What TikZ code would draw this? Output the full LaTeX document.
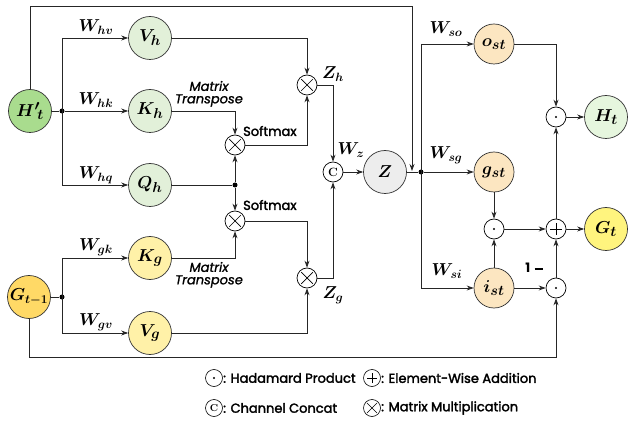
\documentclass[tikz,border=0pt]{standalone}
\usepackage{fontspec}
\setsansfont{Poppins}
\newfontfamily\semib{Poppins}[FakeBold=2.2]
\newfontfamily\semibit{Poppins Italic}[FakeBold=1.2]
\DeclareMathSizes{17}{17}{13}{10}
\DeclareMathSizes{19}{19}{14}{11}
\DeclareMathSizes{16}{16}{12.5}{10}
\usetikzlibrary{arrows.meta,calc}
\definecolor{hgreen}{HTML}{A9DC8E}
\definecolor{lgreen}{HTML}{E2F0D9}
\definecolor{gold}{HTML}{FFD966}
\definecolor{lyellow}{HTML}{FFF1A8}
\definecolor{peach}{HTML}{FCE6C1}
\definecolor{zgray}{HTML}{EDEDED}
\definecolor{byellow}{HTML}{FFF47E}
\definecolor{htgreen}{HTML}{E6F6DE}
\tikzset{
  var/.style={circle,draw=black!80,line width=0.7pt,minimum size=43pt,inner sep=0pt,font=\boldmath\fontsize{19}{19}\selectfont},
  op/.style={circle,draw=black,line width=0.7pt,minimum size=20pt,inner sep=0pt},
  mult/.style={op,path picture={\draw[line width=0.7pt] (path picture bounding box.south west)++(4.2pt,4.2pt) -- ++(11.6pt,11.6pt);
      \draw[line width=0.7pt] (path picture bounding box.north west)++(4.2pt,-4.2pt) -- ++(11.6pt,-11.6pt);}},
  had/.style={op,path picture={\fill (path picture bounding box.center) circle (1.2pt);}},
  plusop/.style={op,path picture={\draw[line width=0.8pt] ($(path picture bounding box.center)+(-6pt,0)$) -- ++(12pt,0);
      \draw[line width=0.8pt] ($(path picture bounding box.center)+(0,-6pt)$) -- ++(0,12pt);}},
  lmult/.style={mult,minimum size=17pt,path picture={\draw[line width=0.6pt] (path picture bounding box.south west)++(3.5pt,3.5pt) -- ++(10pt,10pt);
      \draw[line width=0.6pt] (path picture bounding box.north west)++(3.5pt,-3.5pt) -- ++(10pt,-10pt);}},
  lop/.style={op,minimum size=17pt,line width=0.6pt},
  jdot/.style={circle,fill=black,inner sep=0pt,minimum size=5pt},
  wire/.style={line width=0.8pt,draw=black!85},
  arr/.style={wire,-{Stealth[length=7pt,width=5pt]}},
  wlab/.style={font=\boldmath\fontsize{17}{17}\selectfont,inner sep=0pt},
  smx/.style={font=\semib\fontsize{13}{13}\selectfont,inner sep=0pt},
  mtx/.style={font=\semibit\fontsize{13}{13}\selectfont,inner sep=0pt},
  leg/.style={font=\semib\fontsize{13}{13}\selectfont,inner sep=0pt,anchor=west},
}
\begin{document}
\begin{tikzpicture}[x=1pt,y=-1pt]
\useasboundingbox (0,0) rectangle (628,427);
% state nodes
\node[var,fill=hgreen] (Hp) at (30,111) {${H'}_{\!t}$};
\node[var,fill=gold,font=\boldmath\fontsize{16}{16}\selectfont] (G1) at (29,297) {$G_{t-1}$};
\node[var,fill=lgreen] (Vh) at (150,38) {$V_h$};
\node[var,fill=lgreen] (Kh) at (150,111) {$K_h$};
\node[var,fill=lgreen] (Qh) at (150,185) {$Q_h$};
\node[var,fill=lyellow] (Kg) at (150,258) {$K_g$};
\node[var,fill=lyellow] (Vg) at (150,333) {$V_g$};
\node[var,fill=zgray] (Z) at (385,172) {$Z$};
\node[var,fill=peach,minimum size=40pt] (o) at (494,44) {$o_{st}$};
\node[var,fill=peach,minimum size=40pt] (g) at (494,172) {$g_{st}$};
\node[var,fill=peach,minimum size=40pt] (i) at (494,288) {$i_{st}$};
\node[var,fill=htgreen] (Ht) at (606,117) {$H_t$};
\node[var,fill=byellow] (Gt) at (606,229) {$G_t$};
% operators
\node[mult] (mZh) at (307,85) {};
\node[mult] (mA) at (235,145) {};
\node[mult] (mB) at (235,221) {};
\node[mult] (mZg) at (307,278) {};
\node[op,font=\bfseries\fontsize{12}{12}\selectfont] (C) at (333,172) {C};
\node[had] (hT) at (556,117) {};
\node[had] (hM) at (494,229) {};
\node[plusop] (pl) at (556,229) {};
\node[had] (hB) at (556,288) {};
% junctions
\node[jdot] (dH) at (62,111) {};
\node[jdot] (dG) at (62,297) {};
\node[jdot] (dQ) at (235,185) {};
\node[jdot] (dZ) at (421,172) {};
\coordinate (zin) at (412,171);
% left branches
\draw[wire] (Hp) -- (dH);
\draw[wire] (62,38) -- (62,185);
\draw[arr] (62,38) -- (Vh);
\draw[arr] (dH) -- (Kh);
\draw[arr] (62,185) -- (Qh);
\draw[wire] (G1) -- (dG);
\draw[wire] (62,258) -- (62,333);
\draw[arr] (62,258) -- (Kg);
\draw[arr] (62,333) -- (Vg);
% attention paths
\draw[arr] (Vh) -| (mZh);
\draw[arr] (Kh) -| (mA);
\draw[wire] (Qh) -- (dQ);
\draw[arr] (dQ) -- (mA);
\draw[arr] (dQ) -- (mB);
\draw[arr] (mA) -| (mZh);
\draw[arr] (Kg) -| (mB);
\draw[arr] (mB) -| (mZg);
\draw[arr] (Vg) -| (mZg);
\draw[arr] (mZh) -| (C);
\draw[arr] (mZg) -| (C);
\draw[arr] (C) -- (Z);
\draw[wire] (Z) -- (dZ);
% skip line from H't
\draw[arr] (Hp.north) |- (412,6) -- (zin);
% right side
\draw[wire] (421,44) -- (421,288);
\draw[arr] (421,44) -- (o);
\draw[arr] (dZ) -- (g);
\draw[arr] (421,288) -- (i);
\draw[arr] (o) -| (hT);
\draw[arr] (hT) -- (Ht);
\draw[arr] (g) -- (hM);
\draw[arr] (i) -- (hM);
\draw[arr] (hM) -- (pl);
\draw[arr] (pl) -- (Gt);
\draw[arr] (pl) -- (hT);
\draw[arr] (i) -- (hB);
\draw[arr] (hB) -- (pl);
\draw[arr] (G1.south) |- (556,357) -- (hB);
% labels
\node[wlab] at (96,27) {$W_{hv}$};
\node[wlab] at (96,100) {$W_{hk}$};
\node[wlab] at (96,175) {$W_{hq}$};
\node[wlab] at (96,247) {$W_{gk}$};
\node[wlab] at (96,322) {$W_{gv}$};
\node[wlab] at (333,74) {$Z_h$};
\node[wlab] at (333,295) {$Z_g$};
\node[wlab] at (351,150) {$W_z$};
\node[wlab] at (446,29) {$W_{so}$};
\node[wlab] at (446,155) {$W_{sg}$};
\node[wlab] at (447,271) {$W_{si}$};
\node[font=\sffamily\bfseries\fontsize{13}{13}\selectfont,inner sep=0pt] at (534,268) {1\,\,\rule[3.2pt]{8pt}{1.8pt}};
\node[mtx] at (209,86) {Matrix};
\node[mtx] at (209,100.5) {Transpose};
\node[mtx] at (209,267) {Matrix};
\node[mtx] at (209,281.5) {Transpose};
\node[smx,anchor=west] at (243,131) {Softmax};
\node[smx,anchor=west] at (243,205) {Softmax};
% legend
\node[lop,path picture={\fill (path picture bounding box.center) circle (1.1pt);}] (L1) at (214,378) {};
\node[leg] at (223,378) {: Hadamard Product};
\node[lop,path picture={\draw[line width=0.7pt] ($(path picture bounding box.center)+(-5pt,0)$) -- ++(10pt,0);
      \draw[line width=0.7pt] ($(path picture bounding box.center)+(0,-5pt)$) -- ++(0,10pt);}] (L2) at (372,378) {};
\node[leg] at (381,378) {: Element-Wise Addition};
\node[lop,font=\bfseries\fontsize{10}{10}\selectfont] (L3) at (214,408) {C};
\node[leg] at (223,408) {: Channel Concat};
\node[lmult,line width=0.6pt] (L4) at (372,408) {};
\node[leg] at (381,408) {: Matrix Multiplication};
\end{tikzpicture}
\end{document}
